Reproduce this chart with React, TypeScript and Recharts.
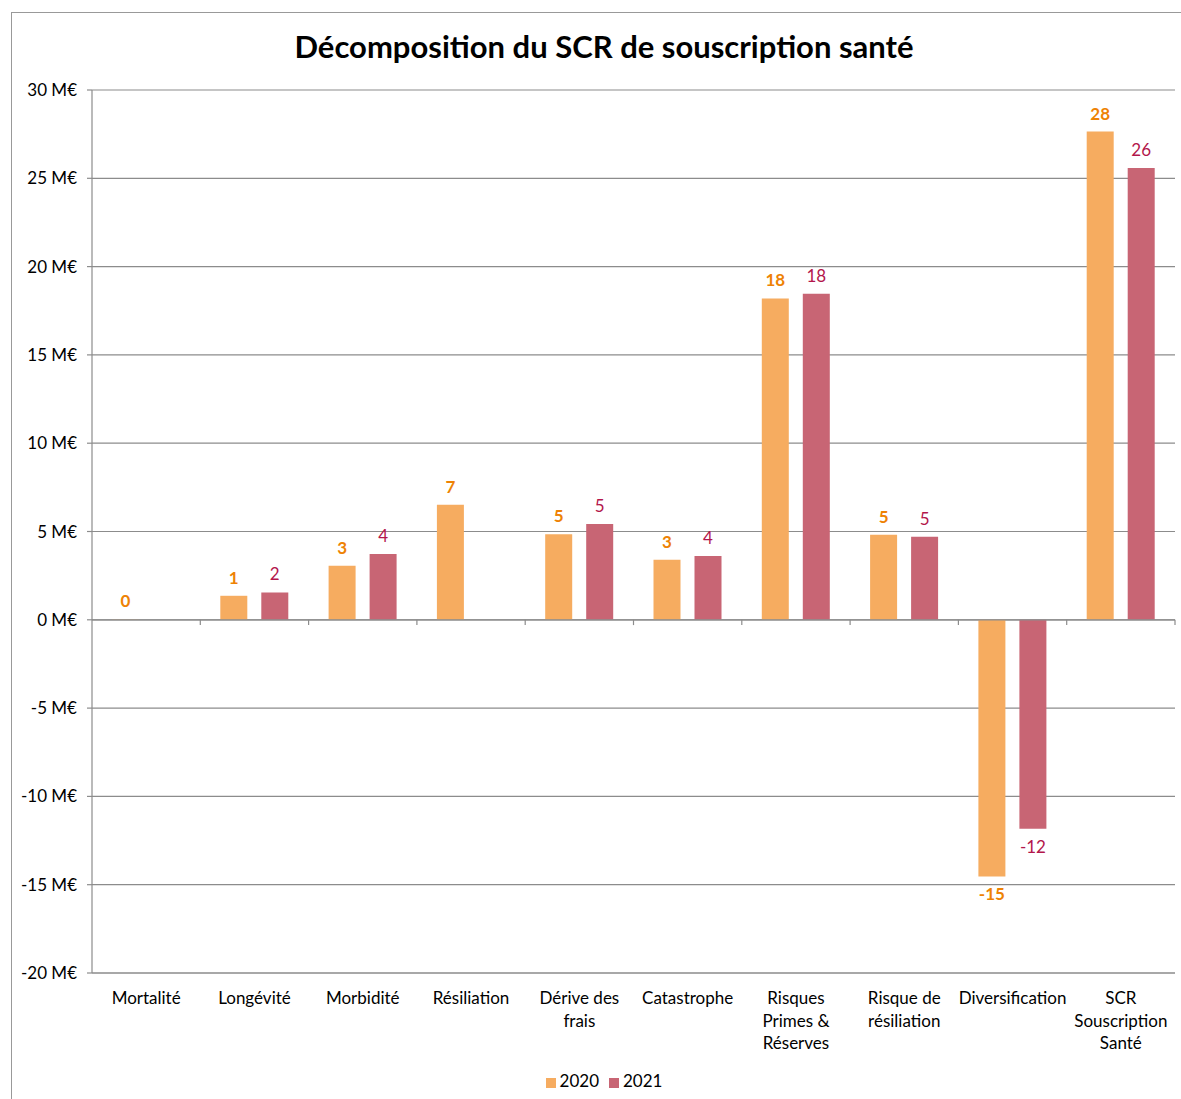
import React from "react";
import {
	BarChart,
	Bar,
	XAxis,
	YAxis,
	CartesianGrid,
	Legend,
	LabelList,
	ReferenceLine,
} from "recharts";

// categories and their wrapped tick labels
const categories = [
	"Mortalité",
	"Longévité",
	"Morbidité",
	"Résiliation",
	"Dérive des frais",
	"Catastrophe",
	"Risques Primes & Réserves",
	"Risque de résiliation",
	"Diversification",
	"SCR Souscription Santé",
];
const tickLines: string[][] = [
	["Mortalité"],
	["Longévité"],
	["Morbidité"],
	["Résiliation"],
	["Dérive des", "frais"],
	["Catastrophe"],
	["Risques", "Primes &", "Réserves"],
	["Risque de", "résiliation"],
	["Diversification"],
	["SCR", "Souscription", "Santé"],
];

// values in M€
const values2020 = [0.02, 1.36, 3.06, 6.51, 4.85, 3.4, 18.2, 4.81, -14.53, 27.65];
const values2021 = [null, 1.55, 3.72, null, 5.42, 3.61, 18.46, 4.7, -11.83, 25.58];

const yTicks = [-20, -15, -10, -5, 0, 5, 10, 15, 20, 25, 30];

const data = categories.map((name, i) => ({
	name,
	v2020: values2020[i],
	v2021: values2021[i],
}));

const GRID = "#8c8c8c";
const FONT = "Lato, 'Noto Sans', sans-serif";

const roundLabel = (v: any) => {
	if (v === null || v === undefined) return "";
	const n = Number(v);
	return String(Math.sign(n) * Math.round(Math.abs(n)));
};

const CategoryTick = (props: any) => {
	const { x, y, payload } = props;
	const lines = tickLines[payload.index] || [payload.value];
	return (
		<text
			x={x}
			y={y + 11}
			textAnchor="middle"
			fill="#000"
			fontSize={17}
			fontFamily={FONT}
		>
			{lines.map((l, i) => (
				<tspan key={i} x={x} dy={i === 0 ? "0.71em" : 22.5}>
					{l}
				</tspan>
			))}
		</text>
	);
};

const App: React.FC = () => {
	return (
		<div
			style={{
				position: "absolute",
				left: 11,
				top: 12,
				width: 1170,
				height: 1087,
				borderLeft: "1px solid #999",
				borderTop: "1px solid #999",
				overflow: "hidden",
				background: "#fff",
				fontFamily: FONT,
			}}
		>
			<div
				style={{
					position: "absolute",
					left: 592,
					top: 14,
					transform: "translateX(-50%)",
					whiteSpace: "nowrap",
					fontSize: 31,
					fontWeight: 700,
					color: "#000",
					zIndex: 2,
				}}
			>
				Décomposition du SCR de souscription santé
			</div>
			<BarChart
				width={1169}
				height={1086}
				data={data}
				margin={{ top: 77, right: 6, left: 10, bottom: 6 }}
				barCategoryGap={20}
				barGap={14}
			>
				<CartesianGrid
					xAxisId="cat"
					vertical={false}
					stroke={GRID}
					strokeWidth={1.2}
				/>
				<XAxis
					xAxisId="cat"
					dataKey="name"
					axisLine={false}
					tickLine={false}
					interval={0}
					height={96}
					tick={<CategoryTick />}
				/>
				<YAxis
					domain={[-20, 30]}
					ticks={yTicks}
					interval={0}
					width={70}
					tickSize={5}
					tickMargin={10}
					axisLine={{ stroke: GRID, strokeWidth: 1.2 }}
					tickLine={{ stroke: GRID, strokeWidth: 1.2 }}
					tick={{ fill: "#000", fontSize: 17 }}
					tickFormatter={(v) => `${v} M€`}
				/>
				<ReferenceLine xAxisId="cat" y={-20} stroke={GRID} strokeWidth={1.2} ifOverflow="visible" />
				<ReferenceLine xAxisId="cat" y={0} stroke={GRID} strokeWidth={1.2} />
				{categories.map((c, i) => (
					<ReferenceLine
						key={c}
						xAxisId="cat"
						position={i === 0 ? "end" : "start"}
						segment={[
							{ x: i === 0 ? categories[categories.length - 1] : c, y: 0 },
							{ x: i === 0 ? categories[categories.length - 1] : c, y: -0.3 },
						]}
						stroke={GRID}
						strokeWidth={1.2}
						ifOverflow="visible"
					/>
				))}
				<Legend
					verticalAlign="bottom"
					align="center"
					iconType="square"
					iconSize={10}
					wrapperStyle={{ height: 24, lineHeight: "24px", left: 0, width: 1194, fontSize: 17 }}
					formatter={(v) => <span style={{ color: "#000" }}>{v}</span>}
				/>
				<Bar
					xAxisId="cat"
					dataKey="v2020"
					name="2020"
					fill="#F6AC60"
					isAnimationActive={false}
				>
					<LabelList
						dataKey="v2020"
						position="top"
						offset={12}
						fill="#EE8204"
						fontWeight={700}
						fontSize={17}
						formatter={roundLabel}
					/>
				</Bar>
				<Bar
					xAxisId="cat"
					dataKey="v2021"
					name="2021"
					fill="#C86574"
					isAnimationActive={false}
				>
					<LabelList
						dataKey="v2021"
						position="top"
						offset={12}
						fill="#B3164B"
						fontSize={17}
						formatter={roundLabel}
					/>
				</Bar>
			</BarChart>
		</div>
	);
};

export default App;
